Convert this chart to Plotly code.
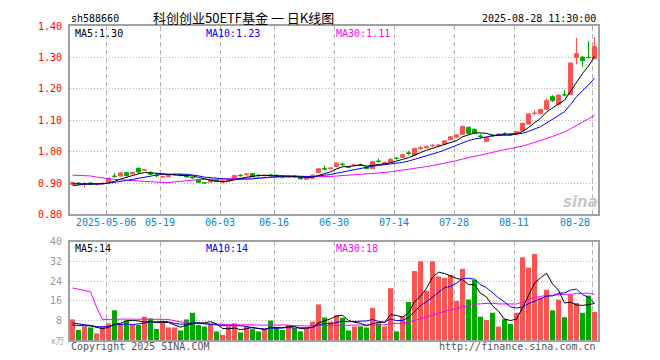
import plotly.graph_objects as go

# ---------------- data ----------------
dates = (
    ["2025-04-%s" % d for d in ["23", "24", "25", "28", "29", "30"]]
    + ["2025-05-%s" % d for d in ["06", "07", "08", "09", "12", "13", "14", "15", "16", "19",
                                  "20", "21", "22", "23", "26", "27", "28", "29", "30"]]
    + ["2025-06-%s" % d for d in ["03", "04", "05", "06", "09", "10", "11", "12", "13", "16",
                                  "17", "18", "19", "20", "23", "24", "25", "26", "27", "30"]]
    + ["2025-07-%s" % d for d in ["01", "02", "03", "04", "07", "08", "09", "10", "11", "14",
                                  "15", "16", "17", "18", "21", "22", "23", "24", "25", "28",
                                  "29", "30", "31"]]
    + ["2025-08-%s" % d for d in ["01", "04", "05", "06", "07", "08", "11", "12", "13", "14",
                                  "15", "18", "19", "20", "21", "22", "25", "26", "27", "28"]]
)

open_ = [0.896, 0.900, 0.895, 0.900, 0.895, 0.898, 0.905, 0.922, 0.922, 0.933,
         0.929, 0.947, 0.940, 0.933, 0.925, 0.919, 0.920, 0.926, 0.927, 0.925,
         0.918, 0.911, 0.901, 0.903, 0.909, 0.902, 0.907, 0.913, 0.925, 0.926,
         0.930, 0.925, 0.923, 0.926, 0.925, 0.922, 0.919, 0.922, 0.918, 0.912,
         0.915, 0.933, 0.946, 0.946, 0.953, 0.960, 0.951, 0.955, 0.958, 0.951,
         0.946, 0.970, 0.962, 0.966, 0.979, 0.982, 0.996, 0.989, 1.009, 1.012,
         1.018, 1.019, 1.024, 1.038, 1.046, 1.055, 1.077, 1.070, 1.050, 1.032,
         1.052, 1.051, 1.057, 1.055, 1.055, 1.066, 1.088, 1.121, 1.122, 1.135,
         1.175, 1.150, 1.181, 1.182, 1.300, 1.301, 1.300, 1.296]
high = [0.904, 0.903, 0.902, 0.902, 0.899, 0.903, 0.917, 0.932, 0.935, 0.936,
        0.936, 0.949, 0.945, 0.937, 0.932, 0.923, 0.927, 0.930, 0.930, 0.927,
        0.920, 0.913, 0.903, 0.911, 0.911, 0.910, 0.912, 0.926, 0.928, 0.931,
        0.932, 0.928, 0.927, 0.928, 0.926, 0.924, 0.924, 0.925, 0.920, 0.918,
        0.927, 0.948, 0.956, 0.951, 0.966, 0.966, 0.954, 0.960, 0.962, 0.953,
        0.970, 0.978, 0.968, 0.980, 0.982, 0.993, 1.002, 1.012, 1.018, 1.019,
        1.024, 1.024, 1.036, 1.049, 1.056, 1.083, 1.080, 1.074, 1.057, 1.048,
        1.055, 1.058, 1.062, 1.058, 1.066, 1.092, 1.123, 1.133, 1.137, 1.170,
        1.180, 1.182, 1.196, 1.284, 1.362, 1.303, 1.352, 1.365]
low = [0.893, 0.894, 0.885, 0.894, 0.892, 0.896, 0.903, 0.917, 0.920, 0.921,
       0.927, 0.930, 0.938, 0.926, 0.918, 0.915, 0.918, 0.924, 0.921, 0.917,
       0.913, 0.900, 0.898, 0.902, 0.903, 0.900, 0.905, 0.911, 0.920, 0.924,
       0.919, 0.920, 0.921, 0.921, 0.920, 0.915, 0.916, 0.917, 0.911, 0.910,
       0.913, 0.931, 0.941, 0.943, 0.951, 0.954, 0.948, 0.953, 0.954, 0.944,
       0.944, 0.965, 0.960, 0.964, 0.975, 0.980, 0.988, 0.987, 1.004, 1.010,
       1.015, 1.016, 1.022, 1.036, 1.043, 1.053, 1.057, 1.056, 1.040, 1.030,
       1.047, 1.049, 1.052, 1.051, 1.053, 1.064, 1.086, 1.115, 1.118, 1.133,
       1.158, 1.148, 1.176, 1.180, 1.278, 1.270, 1.298, 1.294]
close = [0.902, 0.897, 0.899, 0.896, 0.896, 0.899, 0.915, 0.921, 0.932, 0.924,
         0.934, 0.935, 0.942, 0.928, 0.923, 0.920, 0.925, 0.928, 0.925, 0.919,
         0.916, 0.902, 0.900, 0.908, 0.905, 0.907, 0.909, 0.924, 0.923, 0.929,
         0.921, 0.923, 0.925, 0.923, 0.922, 0.918, 0.921, 0.919, 0.913, 0.915,
         0.925, 0.945, 0.944, 0.948, 0.963, 0.958, 0.950, 0.958, 0.957, 0.946,
         0.968, 0.968, 0.965, 0.975, 0.978, 0.990, 0.994, 1.010, 1.012, 1.016,
         1.020, 1.021, 1.034, 1.047, 1.053, 1.080, 1.058, 1.059, 1.048, 1.046,
         1.050, 1.056, 1.056, 1.054, 1.064, 1.090, 1.120, 1.123, 1.134, 1.162,
         1.162, 1.180, 1.180, 1.282, 1.312, 1.290, 1.299, 1.335]
# volume in 万手
volume = [8.4, 4.1, 5.5, 5.1, 2.7, 5.7, 6.8, 12.1, 6.8, 7.9,
          6.1, 6.1, 9.5, 8.8, 4.5, 7.5, 5.1, 5.1, 3.9, 8.4,
          11.1, 6.1, 5.5, 6.4, 3.5, 2.1, 5.5, 6.8, 3.1, 5.7,
          4.4, 3.5, 4.4, 7.9, 4.8, 4.1, 6.1, 4.8, 3.5, 4.4,
          7.5, 14.5, 9.2, 7.5, 10.1, 9.1, 3.9, 5.5, 5.5, 5.1,
          13.1, 6.8, 5.5, 21.1, 3.5, 9.7, 15.5, 28.1, 32.1, 20.1,
          32.1, 25.9, 25.3, 26.5, 15.9, 29.0, 16.5, 24.5, 9.5, 8.1,
          11.1, 5.5, 8.5, 6.5, 11.1, 33.7, 29.5, 35.1, 17.2, 20.5,
          12.1, 16.5, 9.3, 18.5, 15.1, 11.1, 18.1, 11.5]
# history before the window, estimated from the moving-average lines
lead_close = [0.920, 0.918, 0.927, 1.000, 0.990, 0.985, 0.980, 0.975, 0.978, 0.970,
              0.972, 0.968, 0.962, 0.958, 0.952, 0.948, 0.850, 0.862, 0.858, 0.862,
              0.870, 0.880, 0.890, 0.895, 0.892, 0.895, 0.898, 0.894, 0.897]
lead_volume = [20.0, 19.0, 20.6, 191.7, 155.7, 7.0, 8.0, 7.5, 7.2, 7.6,
               7.0, 7.5, 8.0, 7.2, 7.5, 7.0, 22.0, 20.0, 18.0, 17.6,
               9.0, 8.5, 7.5, 7.5, 7.0, 5.5, 5.5, 5.6, 5.5]

tick_dates = ["2025-05-06", "2025-05-19", "2025-06-03", "2025-06-16", "2025-06-30",
              "2025-07-14", "2025-07-28", "2025-08-11", "2025-08-28"]
price_ticks = [0.80, 0.90, 1.00, 1.10, 1.20, 1.30, 1.40]
vol_ticks = [8, 16, 24, 32, 40]

symbol = "sh588660"
title = "科创创业50ETF基金 一 日K线图"
stamp = "2025-08-28 11:30:00"

# ---------------- helpers ----------------
RED = "#F85454"
GREEN = "#00A800"
GRID = "#B4B4B4"
FRAME = "#A0A0A0"
MONO = "DejaVu Sans Mono"


def sma(hist, vals, n):
    full = list(hist) + list(vals)
    off = len(hist)
    return [sum(full[off + i - n + 1: off + i + 1]) / n for i in range(len(vals))]


n = len(dates)
xs = list(range(n))
ma5, ma10, ma30 = (sma(lead_close, close, k) for k in (5, 10, 30))
vma5, vma10, vma30 = (sma(lead_volume, volume, k) for k in (5, 10, 30))

up = [close[i] >= open_[i] for i in xs]

# the page adds an 8px body margin; size the figure so the page is 660x360
OFF = 8
W, H = 660 - OFF, 360 - OFF
ML, MR, MT, MB = 70 - OFF, 62, 20 - OFF, 20
PW, PH = W - ML - MR, H - MT - MB


def py(y):  # page pixel y -> paper
    return (H - MB - (y - OFF)) / PH


def pxx(x):  # page pixel x -> paper
    return (x - OFF - ML) / PW


SLOT = 6.0
x0 = -2.5 / SLOT
xrange_ = [x0, x0 + PW / SLOT]

fig = go.Figure()

# wicks
for flag, col in ((True, RED), (False, GREEN)):
    wx, wy = [], []
    for i in xs:
        if up[i] == flag:
            wx += [i, i, None]
            wy += [low[i], high[i], None]
    fig.add_trace(go.Scatter(x=wx, y=wy, mode="lines", line=dict(color=col, width=1),
                             hoverinfo="skip", showlegend=False, xaxis="x", yaxis="y"))

# bodies
for flag, col in ((True, RED), (False, GREEN)):
    bx = [i for i in xs if up[i] == flag]
    base = [min(open_[i], close[i]) for i in bx]
    hgt = [max(abs(close[i] - open_[i]), 0.0012) for i in bx]
    fig.add_trace(go.Bar(x=bx, y=hgt, base=base, width=0.68,
                         marker=dict(color=col, line=dict(color=col, width=1)),
                         showlegend=False, xaxis="x", yaxis="y"))

# price moving averages
for ser, col in ((ma30, "#FF00FF"), (ma10, "#0000FF"), (ma5, "#000000")):
    fig.add_trace(go.Scatter(x=xs, y=ser, mode="lines", line=dict(color=col, width=1),
                             showlegend=False, xaxis="x", yaxis="y"))

# volume bars
for flag, col in ((True, RED), (False, GREEN)):
    bx = [i for i in xs if up[i] == flag]
    fig.add_trace(go.Bar(x=bx, y=[volume[i] for i in bx], width=0.83,
                         marker=dict(color=col, line=dict(width=0)),
                         showlegend=False, xaxis="x2", yaxis="y2"))

for ser, col in ((vma30, "#FF00FF"), (vma10, "#0000FF"), (vma5, "#000000")):
    fig.add_trace(go.Scatter(x=xs, y=ser, mode="lines", line=dict(color=col, width=1),
                             showlegend=False, xaxis="x2", yaxis="y2"))

tick_idx = [dates.index(d) for d in tick_dates]
grid_x = [i + x0 for i in tick_idx]

common_x = dict(range=xrange_, showgrid=True, gridcolor=GRID, griddash="5px,3px", gridwidth=1,
                tickvals=grid_x, showticklabels=False, ticks="", zeroline=False,
                showline=True, mirror=True, linecolor=FRAME, linewidth=2, fixedrange=True)

fig.update_layout(
    width=W, height=H, margin=dict(l=ML, r=MR, t=MT, b=MB),
    paper_bgcolor="white", plot_bgcolor="white",
    barmode="overlay", showlegend=False,
    xaxis=dict(domain=[0, 1], anchor="y", **common_x),
    xaxis2=dict(domain=[0, 1], anchor="y2", **common_x),
    yaxis=dict(domain=[py(212), 1], range=[0.80, 1.40], tickvals=price_ticks,
               ticktext=["%.2f" % v for v in price_ticks],
               tickfont=dict(family=MONO, size=10, color="#FF0000"),
               showgrid=True, gridcolor=GRID, griddash="1px,2px", zeroline=False,
               showline=True, mirror=True, linecolor=FRAME, linewidth=2, ticks="",
               ticklabelstandoff=4),
    yaxis2=dict(domain=[0, py(240)], range=[0, 40], tickvals=vol_ticks,
                ticktext=[str(v) for v in vol_ticks],
                tickfont=dict(family=MONO, size=10, color="#999999"),
                showgrid=True, gridcolor=GRID, griddash="1px,2px", zeroline=False,
                showline=True, mirror=True, linecolor=FRAME, linewidth=2, ticks="",
                ticklabelstandoff=4),
)

ann = []


def text(x, y, s, color="#000000", size=10, anchor="left", family=MONO, **kw):
    ann.append(dict(x=pxx(x), y=py(y), xref="paper", yref="paper", text=s, showarrow=False,
                    xanchor=anchor, yanchor="middle",
                    font=dict(family=family, size=size, color=color), **kw))


text(69, 12.5, symbol)
text(243, 11.5, title, size=13, anchor="center", family="Noto Sans CJK SC", borderpad=0)
text(598, 12.5, stamp, anchor="right")

text(73, 27.5, "MA5:%.2f" % ma5[-1])
text(204, 27.5, "MA10:%.2f" % ma10[-1], color="#0000FF")
text(334, 27.5, "MA30:%.2f" % ma30[-1], color="#FF00FF")

text(73, 247, "MA5:%d" % int(vma5[-1]))
text(204, 247, "MA10:%d" % int(vma10[-1]), color="#0000FF")
text(334, 247, "MA30:%d" % int(vma30[-1]), color="#FF00FF")

text(66, 340, "x万", color="#AAAAAA", size=9, anchor="right", family="Noto Sans CJK SC")
text(69, 347, "Copyright 2025 SINA.COM", color="#555555")
text(598, 347, "http://finance.sina.com.cn", color="#555555", anchor="right")

# x tick labels under the price panel
for k, (d, gx) in enumerate(zip(tick_dates, grid_x)):
    lab = d if k == 0 else d[5:]
    last = k == len(tick_dates) - 1
    ann.append(dict(x=gx, y=py(220), xref="x", yref="paper", text=lab, showarrow=False,
                    xanchor="right" if last else "center", yanchor="middle",
                    font=dict(family=MONO, size=10, color="#0A82D2")))

# sina watermark
text(580, 199, "<b><i>sina</i></b>", color="#C8C8C8", size=15, anchor="center",
     family="DejaVu Sans")

fig.update_layout(annotations=ann)
fig.write_html("out.html")
